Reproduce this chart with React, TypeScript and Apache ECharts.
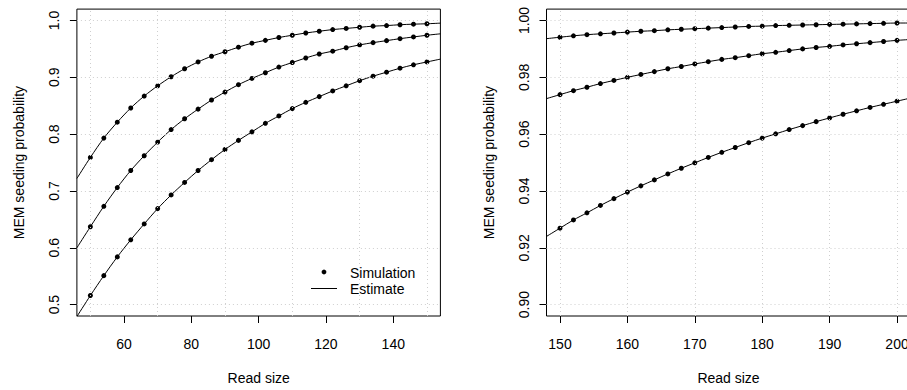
import React, { useEffect, useRef } from "react";
import * as echarts from "echarts";

// ---------- Left panel (read size 50..150) ----------
const leftX = [50, 54, 58, 62, 66, 70, 74, 78, 82, 86, 90, 94, 98, 102, 106, 110, 114, 118, 122, 126, 130, 134, 138, 142, 146, 150];
const leftSimTop = [0.759, 0.793, 0.821, 0.846, 0.867, 0.885, 0.901, 0.915, 0.927, 0.937, 0.945, 0.953, 0.96, 0.965, 0.97, 0.974, 0.978, 0.981, 0.984, 0.986, 0.988, 0.99, 0.991, 0.9925, 0.9935, 0.9942];
const leftSimMid = [0.637, 0.673, 0.706, 0.736, 0.762, 0.786, 0.808, 0.827, 0.844, 0.86, 0.874, 0.887, 0.898, 0.908, 0.918, 0.926, 0.934, 0.941, 0.946, 0.952, 0.957, 0.961, 0.9645, 0.968, 0.971, 0.974];
const leftSimBot = [0.516, 0.551, 0.584, 0.614, 0.642, 0.669, 0.693, 0.715, 0.736, 0.755, 0.773, 0.789, 0.804, 0.819, 0.832, 0.845, 0.856, 0.866, 0.876, 0.885, 0.894, 0.902, 0.909, 0.916, 0.922, 0.927];
// estimate curve end values at the axis edges (46 and 154)
const leftEdgeX = [46, 154];
const leftEstTopEdges = [0.722, 0.9953];
const leftEstMidEdges = [0.6, 0.9765];
const leftEstBotEdges = [0.479, 0.932];
const leftXTicks = [60, 80, 100, 120, 140];
const leftXGrid = [50, 70, 90, 110, 130, 150];
const leftYTicks = [0.5, 0.6, 0.7, 0.8, 0.9, 1.0];

// ---------- Right panel (read size 150..200) ----------
const rightX = [150, 152, 154, 156, 158, 160, 162, 164, 166, 168, 170, 172, 174, 176, 178, 180, 182, 184, 186, 188, 190, 192, 194, 196, 198, 200];
const rightSimTop = [0.9941, 0.9946, 0.995, 0.9953, 0.9956, 0.9959, 0.9962, 0.9964, 0.9967, 0.9969, 0.9971, 0.9973, 0.9975, 0.9977, 0.9979, 0.998, 0.9982, 0.9983, 0.9984, 0.9985, 0.9986, 0.9987, 0.9988, 0.9989, 0.999, 0.9991];
const rightSimMid = [0.9739, 0.9753, 0.9765, 0.9778, 0.9789, 0.98, 0.981, 0.982, 0.983, 0.9838, 0.9847, 0.9855, 0.9863, 0.9869, 0.9876, 0.9883, 0.9888, 0.9894, 0.99, 0.9905, 0.9909, 0.9914, 0.9918, 0.9922, 0.9926, 0.993];
const rightSimBot = [0.9269, 0.9298, 0.9323, 0.9349, 0.9373, 0.9396, 0.9418, 0.9439, 0.946, 0.948, 0.9499, 0.9518, 0.9536, 0.9553, 0.957, 0.9586, 0.9601, 0.9616, 0.963, 0.9644, 0.9657, 0.967, 0.9682, 0.9694, 0.9705, 0.9716];
const rightEdgeX = [148, 202];
const rightEstTopEdges = [0.9936, 0.9991];
const rightEstMidEdges = [0.9725, 0.9933];
const rightEstBotEdges = [0.924, 0.9727];
const rightXTicks = [150, 160, 170, 180, 190, 200];
const rightYTicks = [0.9, 0.92, 0.94, 0.96, 0.98, 1.0];

const FONT = "'Liberation Sans', Arial, Helvetica, sans-serif";

const pairs = (xs: number[], ys: number[]) => xs.map((x, i) => [x, ys[i]]);
const estPairs = (xs: number[], ys: number[], ex: number[], ey: number[]) => [
  [ex[0], ey[0]],
  ...pairs(xs, ys),
  [ex[1], ey[1]],
];

function xAxisCfg(gridIndex: number, min: number, max: number, ticks: number[]) {
  return {
    type: "value",
    gridIndex,
    min,
    max,
    name: "Read size",
    nameLocation: "middle",
    nameGap: 55,
    nameTextStyle: { fontFamily: FONT, fontSize: 14, color: "#000" },
    axisLine: { show: false },
    axisTick: { show: true, inside: false, length: 7, customValues: ticks, lineStyle: { color: "#000", width: 1 } },
    axisLabel: { show: true, customValues: ticks, margin: 21, fontFamily: FONT, fontSize: 14, color: "#000" },
    splitLine: { show: false },
  };
}

function yAxisCfg(gridIndex: number, min: number, max: number, ticks: number[], digits: number) {
  return {
    type: "value",
    gridIndex,
    min,
    max,
    name: "MEM seeding probability",
    nameLocation: "middle",
    nameGap: 51,
    nameTextStyle: { fontFamily: FONT, fontSize: 14, color: "#000" },
    axisLine: { show: false },
    axisTick: { show: true, inside: false, length: 7, customValues: ticks, lineStyle: { color: "#000", width: 1 } },
    axisLabel: {
      show: true,
      customValues: ticks,
      rotate: 90,
      margin: 16,
      fontFamily: FONT,
      fontSize: 14,
      color: "#000",
      formatter: (v: number) => v.toFixed(digits),
    },
    splitLine: { show: false },
  };
}

function gridSeries(idx: number, xs: number[], ys: number[]) {
  return {
    type: "line",
    xAxisIndex: idx,
    yAxisIndex: idx,
    data: [],
    silent: true,
    z: 1,
    markLine: {
      silent: true,
      symbol: ["none", "none"],
      label: { show: false },
      lineStyle: { color: "#cfcfcf", type: [1, 3], width: 1 },
      data: [...xs.map((x) => ({ xAxis: x })), ...ys.map((y) => ({ yAxis: y }))],
    },
  };
}

function estSeries(idx: number, data: number[][]) {
  return {
    type: "line",
    xAxisIndex: idx,
    yAxisIndex: idx,
    data,
    symbol: "none",
    smooth: 0.3,
    silent: true,
    z: 3,
    lineStyle: { color: "#000", width: 1 },
  };
}

function simSeries(idx: number, data: number[][]) {
  return {
    type: "scatter",
    xAxisIndex: idx,
    yAxisIndex: idx,
    data,
    symbol: "circle",
    symbolSize: 5,
    silent: true,
    z: 4,
    itemStyle: { color: "#000", opacity: 1 },
  };
}

export default function App() {
  const ref = useRef<HTMLDivElement>(null);
  useEffect(() => {
    const chart = echarts.init(ref.current!, null, { renderer: "svg" });
    const option = {
      animation: false,
      backgroundColor: "#fff",
      grid: [
        { left: 76.9, top: 9.1, width: 363.5, height: 312.5, show: true, borderColor: "#000", borderWidth: 1, backgroundColor: "transparent" },
        { left: 546.5, top: 9.1, width: 364, height: 312.5, show: true, borderColor: "#000", borderWidth: 1, backgroundColor: "transparent" },
      ],
      xAxis: [xAxisCfg(0, 46, 154, leftXTicks), xAxisCfg(1, 148, 202, rightXTicks)],
      yAxis: [yAxisCfg(0, 0.48, 1.02, leftYTicks, 1), yAxisCfg(1, 0.896, 1.004, rightYTicks, 2)],
      series: [
        gridSeries(0, leftXGrid, leftYTicks),
        estSeries(0, estPairs(leftX, leftSimTop, leftEdgeX, leftEstTopEdges)),
        estSeries(0, estPairs(leftX, leftSimMid, leftEdgeX, leftEstMidEdges)),
        estSeries(0, estPairs(leftX, leftSimBot, leftEdgeX, leftEstBotEdges)),
        simSeries(0, pairs(leftX, leftSimTop)),
        simSeries(0, pairs(leftX, leftSimMid)),
        simSeries(0, pairs(leftX, leftSimBot)),
        gridSeries(1, rightXTicks, rightYTicks),
        estSeries(1, estPairs(rightX, rightSimTop, rightEdgeX, rightEstTopEdges)),
        estSeries(1, estPairs(rightX, rightSimMid, rightEdgeX, rightEstMidEdges)),
        estSeries(1, estPairs(rightX, rightSimBot, rightEdgeX, rightEstBotEdges)),
        simSeries(1, pairs(rightX, rightSimTop)),
        simSeries(1, pairs(rightX, rightSimMid)),
        simSeries(1, pairs(rightX, rightSimBot)),
      ],
      graphic: [
        { type: "circle", shape: { cx: 324, cy: 272, r: 2.4 }, style: { fill: "#000" }, silent: true },
        { type: "line", shape: { x1: 311, y1: 288.5, x2: 337, y2: 288.5 }, style: { stroke: "#000", lineWidth: 1 }, silent: true },
        { type: "text", x: 350, y: 272.5, style: { text: "Simulation", font: `14px ${FONT}`, fill: "#000", textAlign: "left", textVerticalAlign: "middle" }, silent: true },
        { type: "text", x: 350, y: 289, style: { text: "Estimate", font: `14px ${FONT}`, fill: "#000", textAlign: "left", textVerticalAlign: "middle" }, silent: true },
      ],
    };
    chart.setOption(option as any);
    return () => chart.dispose();
  }, []);
  return (
    <div style={{ position: "absolute", left: 0, top: 0, width: 907, height: 390, overflow: "hidden", background: "#fff" }}>
      <div ref={ref} style={{ width: 930, height: 390 }} />
    </div>
  );
}
